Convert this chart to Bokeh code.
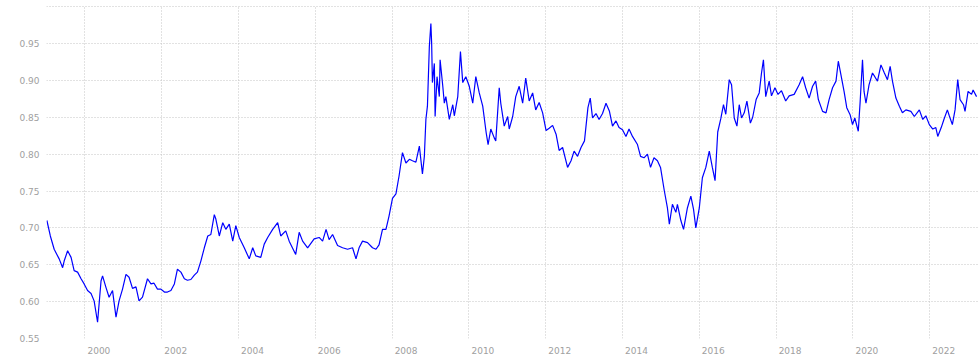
from bokeh.plotting import figure
from bokeh.models import Range1d, FixedTicker, PrintfTickFormatter, CustomJSTickFormatter
from bokeh.embed import file_html
from bokeh.resources import INLINE

# Decimal-year positions and EUR/GBP rates
years = [
    1999.01, 1999.10, 1999.20, 1999.27, 1999.33, 1999.42, 1999.46, 1999.55, 1999.64, 1999.72, 1999.81, 1999.90, 1999.98,
    2000.07, 2000.16, 2000.24, 2000.33, 2000.42, 2000.46, 2000.55, 2000.63, 2000.72, 2000.81, 2000.89, 2000.98,
    2001.07, 2001.15, 2001.24, 2001.33, 2001.41, 2001.50, 2001.63, 2001.72, 2001.80, 2001.89, 2001.98,
    2002.07, 2002.15, 2002.24, 2002.33, 2002.41, 2002.50, 2002.59, 2002.67, 2002.76, 2002.85, 2002.93,
    2003.02, 2003.11, 2003.20, 2003.28, 2003.37, 2003.41, 2003.50, 2003.59, 2003.67, 2003.76, 2003.85, 2003.93,
    2004.02, 2004.15, 2004.28, 2004.37, 2004.45, 2004.58, 2004.67, 2004.76, 2004.89,
    2005.02, 2005.10, 2005.23, 2005.32, 2005.49, 2005.58, 2005.67, 2005.80, 2005.97,
    2006.10, 2006.19, 2006.28, 2006.36, 2006.45, 2006.58, 2006.71, 2006.84, 2006.97,
    2007.06, 2007.14, 2007.23, 2007.36, 2007.49, 2007.58, 2007.66, 2007.75, 2007.84, 2007.92,
    2008.01, 2008.10, 2008.18, 2008.27, 2008.36, 2008.45, 2008.53, 2008.62, 2008.71, 2008.79, 2008.84, 2008.88, 2008.92, 2008.97,
    2009.01, 2009.03, 2009.05, 2009.10, 2009.12, 2009.17, 2009.23, 2009.25, 2009.32, 2009.36, 2009.40, 2009.49, 2009.58, 2009.62,
    2009.71, 2009.78, 2009.84, 2009.92,
    2010.01, 2010.10, 2010.18, 2010.27, 2010.36, 2010.45, 2010.50, 2010.57, 2010.66, 2010.70, 2010.79, 2010.83, 2010.92,
    2011.01, 2011.05, 2011.14, 2011.22, 2011.31, 2011.40, 2011.48, 2011.57, 2011.66, 2011.74, 2011.83, 2011.92,
    2012.01, 2012.09, 2012.18, 2012.27, 2012.35, 2012.44, 2012.57, 2012.66, 2012.74, 2012.83, 2012.92,
    2013.01, 2013.10, 2013.16, 2013.22, 2013.31, 2013.39, 2013.48, 2013.57, 2013.66, 2013.74, 2013.83, 2013.91,
    2014.00, 2014.09, 2014.17, 2014.26, 2014.39, 2014.47, 2014.56, 2014.65, 2014.73, 2014.82, 2014.91, 2014.99,
    2015.09, 2015.17, 2015.22, 2015.30, 2015.39, 2015.43, 2015.52, 2015.59, 2015.69, 2015.78, 2015.85, 2015.91,
    2016.00, 2016.08, 2016.17, 2016.26, 2016.34, 2016.41, 2016.48, 2016.56, 2016.63, 2016.69, 2016.78, 2016.84, 2016.91, 2016.98,
    2017.04, 2017.10, 2017.17, 2017.24, 2017.33, 2017.39, 2017.48, 2017.56, 2017.62, 2017.67, 2017.73, 2017.82, 2017.88, 2017.97,
    2018.05, 2018.14, 2018.25, 2018.34, 2018.47, 2018.60, 2018.69, 2018.77, 2018.86, 2018.95,
    2019.03, 2019.10, 2019.21, 2019.30, 2019.38, 2019.47, 2019.56, 2019.62, 2019.69, 2019.77, 2019.84, 2019.93, 2019.99,
    2020.05, 2020.14, 2020.19, 2020.25, 2020.29, 2020.34, 2020.42, 2020.51, 2020.57, 2020.64, 2020.73, 2020.82, 2020.90, 2020.97,
    2021.03, 2021.12, 2021.21, 2021.29, 2021.38, 2021.51, 2021.60, 2021.73, 2021.82, 2021.90, 2021.99,
    2022.08, 2022.16, 2022.21, 2022.30, 2022.37, 2022.46, 2022.51, 2022.59, 2022.66, 2022.73, 2022.79, 2022.88, 2022.92,
    2023.00, 2023.09, 2023.13, 2023.22,
]
rates = [
    0.710, 0.689, 0.671, 0.664, 0.658, 0.646, 0.655, 0.669, 0.660, 0.642, 0.640, 0.631, 0.624,
    0.615, 0.611, 0.601, 0.572, 0.628, 0.635, 0.619, 0.606, 0.615, 0.579, 0.601, 0.617,
    0.637, 0.633, 0.618, 0.620, 0.601, 0.606, 0.631, 0.624, 0.625, 0.617, 0.617,
    0.613, 0.613, 0.615, 0.624, 0.644, 0.640, 0.631, 0.629, 0.630, 0.636, 0.640,
    0.655, 0.673, 0.689, 0.691, 0.718, 0.712, 0.689, 0.707, 0.698, 0.705, 0.682, 0.703,
    0.687, 0.673, 0.658, 0.673, 0.662, 0.660, 0.678, 0.687, 0.698,
    0.707, 0.689, 0.696, 0.682, 0.664, 0.694, 0.682, 0.673, 0.685,
    0.687, 0.682, 0.698, 0.684, 0.691, 0.676, 0.673, 0.671, 0.673,
    0.658, 0.673, 0.682, 0.680, 0.673, 0.671, 0.677, 0.698, 0.698, 0.716,
    0.740, 0.746, 0.770, 0.802, 0.788, 0.793, 0.791, 0.789, 0.811, 0.773, 0.797, 0.847, 0.865, 0.946,
    0.977, 0.950, 0.897, 0.923, 0.851, 0.905, 0.878, 0.928, 0.892, 0.869, 0.878, 0.847, 0.867, 0.852,
    0.878, 0.939, 0.897, 0.905,
    0.892, 0.869, 0.905, 0.883, 0.865, 0.829, 0.813, 0.834, 0.822, 0.818, 0.890, 0.869, 0.838,
    0.851, 0.834, 0.851, 0.878, 0.892, 0.869, 0.903, 0.872, 0.883, 0.860, 0.870, 0.856,
    0.832, 0.835, 0.839, 0.827, 0.805, 0.809, 0.782, 0.791, 0.804, 0.797, 0.809,
    0.818, 0.863, 0.876, 0.849, 0.855, 0.847, 0.855, 0.869, 0.858, 0.838, 0.845, 0.836,
    0.833, 0.824, 0.834, 0.824, 0.813, 0.797, 0.795, 0.800, 0.782, 0.795, 0.791, 0.782,
    0.750, 0.727, 0.705, 0.732, 0.721, 0.732, 0.710, 0.698, 0.727, 0.743, 0.725, 0.700,
    0.727, 0.768, 0.782, 0.804, 0.782, 0.764, 0.830, 0.848, 0.867, 0.854, 0.901, 0.894, 0.849, 0.838,
    0.867, 0.849, 0.856, 0.872, 0.842, 0.850, 0.874, 0.883, 0.910, 0.928, 0.878, 0.899, 0.879, 0.890,
    0.881, 0.886, 0.872, 0.879, 0.881, 0.894, 0.905, 0.890, 0.876, 0.892,
    0.899, 0.874, 0.858, 0.856, 0.874, 0.890, 0.899, 0.926, 0.907, 0.885, 0.863, 0.853, 0.840,
    0.849, 0.831, 0.872, 0.928, 0.885, 0.869, 0.894, 0.910, 0.905, 0.899, 0.921, 0.910, 0.901, 0.919,
    0.899, 0.876, 0.865, 0.856, 0.860, 0.858, 0.851, 0.860, 0.847, 0.852, 0.840,
    0.834, 0.836, 0.824, 0.836, 0.847, 0.860, 0.852, 0.840, 0.860, 0.901, 0.874, 0.867, 0.858,
    0.885, 0.881, 0.887, 0.878,
]

x_ticks = [2000, 2002, 2004, 2006, 2008, 2010, 2012, 2014, 2016, 2018, 2020, 2022]
y_ticks = [0.55, 0.60, 0.65, 0.70, 0.75, 0.80, 0.85, 0.90, 0.95]
grid_y = y_ticks + [1.00]

PX_PER_YEAR = 38.4
PX_PER_UNIT = 737.5
FRAME_W, FRAME_H = 933, 333

p = figure(
    frame_width=FRAME_W, frame_height=FRAME_H,
    min_border_left=46, min_border_right=0, min_border_top=5, min_border_bottom=18,
    x_range=Range1d(1999.0, 1999.0 + FRAME_W / PX_PER_YEAR),
    y_range=Range1d(0.55, 0.55 + FRAME_H / PX_PER_UNIT),
    output_backend="svg", toolbar_location=None,
)
p.outline_line_color = None
p.background_fill_color = "white"
p.border_fill_color = "white"

p.line(years, rates, line_color="#0000ff", line_width=1.2)

grid_color = "#c4c4c4"
# year labels are centred about 14px to the right of their gridline
label_offset = 14 / PX_PER_YEAR
p.xaxis.ticker = FixedTicker(ticks=[t + label_offset for t in x_ticks])
p.xgrid.ticker = FixedTicker(ticks=x_ticks)
p.yaxis.ticker = FixedTicker(ticks=y_ticks)
p.ygrid.ticker = FixedTicker(ticks=grid_y)
p.xaxis.formatter = CustomJSTickFormatter(code="return Math.floor(tick).toFixed(0);")
p.yaxis.formatter = PrintfTickFormatter(format="%.2f")

for g in (p.xgrid, p.ygrid):
    g.grid_line_color = grid_color
    g.grid_line_dash = "1 2"
    g.grid_line_width = 1

for ax in (p.xaxis, p.yaxis):
    ax.axis_line_color = None
    ax.major_tick_line_color = None
    ax.minor_tick_line_color = None
    ax.major_tick_out = 0
    ax.major_tick_in = 0
    ax.minor_tick_out = 0
    ax.major_label_text_font = "DejaVu Sans"
    ax.major_label_text_font_size = "9px"
    ax.major_label_text_color = "#a0a0a0"

p.xaxis.major_label_standoff = 8
p.yaxis.major_label_standoff = 7

open("out.html", "w").write(file_html(p, INLINE))
